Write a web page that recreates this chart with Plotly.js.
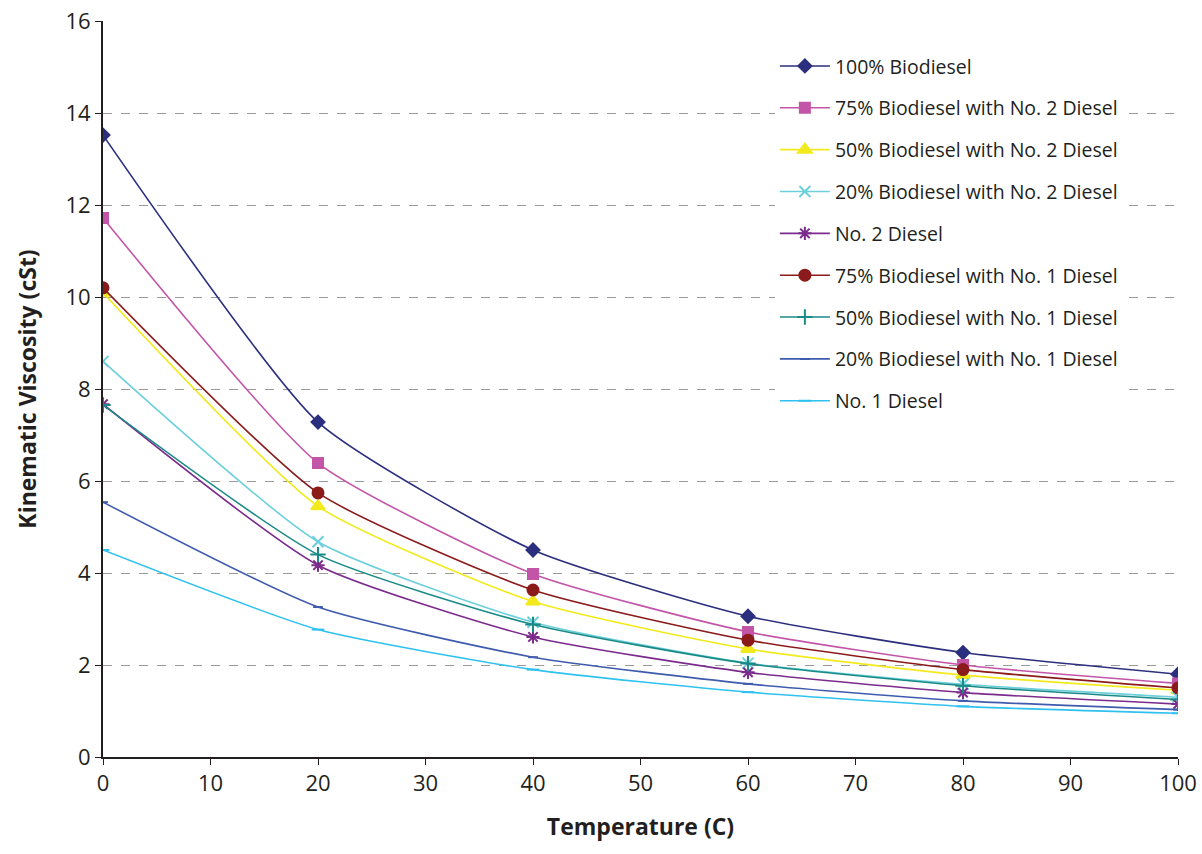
<!DOCTYPE html>
<html>
<head>
<meta charset="utf-8">
<script src="https://cdn.plot.ly/plotly-3.0.1.min.js"></script>
<style>html,body{margin:0;padding:0;background:#fff}#chart{width:1202px;height:854px}</style>
</head>
<body>
<div id="chart"></div>
<script>
const temps = [0, 20, 40, 60, 80, 100]

const names = [
  '100% Biodiesel',
  '75% Biodiesel with No. 2 Diesel',
  '50% Biodiesel with No. 2 Diesel',
  '20% Biodiesel with No. 2 Diesel',
  'No. 2 Diesel',
  '75% Biodiesel with No. 1 Diesel',
  '50% Biodiesel with No. 1 Diesel',
  '20% Biodiesel with No. 1 Diesel',
  'No. 1 Diesel',
]

const bio100 = [13.52, 7.28, 4.5, 3.06, 2.27, 1.8]
const bio75no2 = [11.72, 6.39, 3.98, 2.72, 2.0, 1.6]
const bio50no2 = [10.09, 5.45, 3.38, 2.35, 1.78, 1.45]
const bio20no2 = [8.6, 4.68, 2.93, 2.04, 1.58, 1.3]
const no2 = [7.67, 4.17, 2.61, 1.84, 1.4, 1.15]
const bio75no1 = [10.2, 5.74, 3.63, 2.54, 1.9, 1.5]
const bio50no1 = [7.65, 4.4, 2.88, 2.03, 1.55, 1.25]
const bio20no1 = [5.54, 3.26, 2.17, 1.59, 1.22, 1.03]
const no1 = [4.5, 2.77, 1.9, 1.41, 1.1, 0.95]

const series = [bio100, bio75no2, bio50no2, bio20no2, no2, bio75no1, bio50no1, bio20no1, no1]
const colors = ['#2b2f7e', '#c355a8', '#f2ea1c', '#6ccfdc', '#7b2b8c', '#8b1a1a', '#1a8a86', '#3e5bae', '#2fc1ef']
const symbols = ['diamond', 'square', 'triangle-up', 'x-thin-open', 'asterisk-open', 'circle', 'cross-thin-open', 'line-ew-open', 'line-ew-open']
const sizes = [10, 10, 12, 11, 11, 11, 11, 7, 9]

const data = series.map((ys, i) => ({
  x: temps,
  y: ys,
  name: names[i],
  legendgroup: 'g' + i,
  mode: 'lines+markers',
  line: { color: colors[i], width: 1.6, shape: 'spline', smoothing: 0.55 },
  marker: { symbol: symbols[i], size: sizes[i], color: colors[i], line: { color: colors[i], width: 2 } },
}))

const layout = {
  width: 1202,
  height: 854,
  font: { family: 'Open Sans, sans-serif', size: 20, color: '#231f20' },
  paper_bgcolor: '#fff',
  plot_bgcolor: '#fff',
  margin: { l: 103, r: 24, t: 21, b: 97 },
  showlegend: true,
  legend: {
    x: 0.625, y: 0.965, xanchor: 'left', yanchor: 'top',
    font: { size: 19.5 }, traceorder: 'grouped', tracegroupgap: 13.5, itemwidth: 50,
  },
  xaxis: {
    range: [0, 100], dtick: 10, showgrid: false, zeroline: false,
    showline: true, linecolor: '#231f20', linewidth: 2,
    ticks: 'outside', ticklen: 6, tickcolor: '#231f20',
    tickfont: { size: 22 },
    title: { text: '<b>Temperature (C)</b>', standoff: 22, font: { size: 23 } },
  },
  yaxis: {
    range: [0, 16], dtick: 2, zeroline: false,
    showgrid: true, gridcolor: '#999', griddash: 'dash', gridwidth: 1,
    showline: true, linecolor: '#231f20', linewidth: 2,
    ticks: 'outside', ticklen: 6, tickcolor: '#231f20',
    tickfont: { size: 22 },
    title: { text: '<b>Kinematic Viscosity (cSt)</b>', standoff: 22, font: { size: 23 } },
  },
}

Plotly.newPlot('chart', data, layout, { displayModeBar: false })
</script>
</body>
</html>
